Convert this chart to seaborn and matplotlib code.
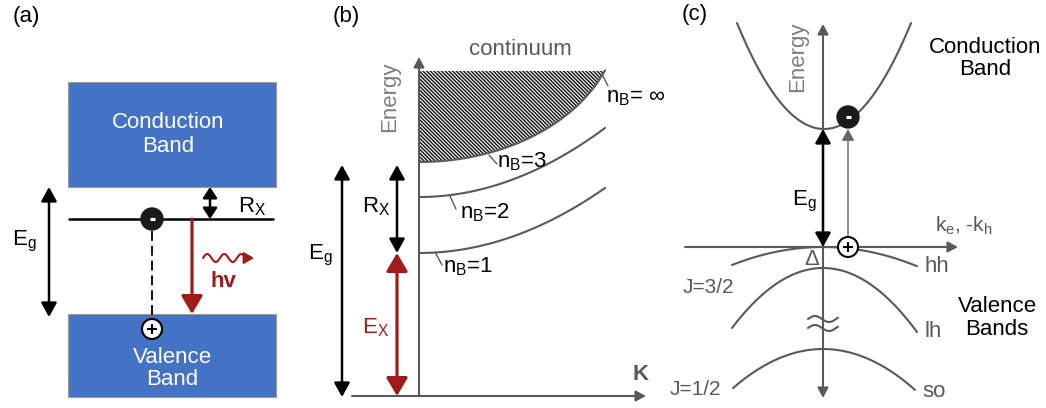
import numpy as np
import matplotlib
matplotlib.use("Agg")
import matplotlib.pyplot as plt
import seaborn as sns
import pandas as pd
from matplotlib.patches import Rectangle, Circle, FancyArrowPatch, ArrowStyle

sns.set_style("white")
plt.rcParams['font.family'] = ['Liberation Sans', 'DejaVu Sans']
plt.rcParams['mathtext.fontset'] = 'custom'
plt.rcParams['mathtext.rm'] = 'Liberation Sans'
plt.rcParams['mathtext.it'] = 'Liberation Sans:italic'
plt.rcParams['mathtext.bf'] = 'Liberation Sans:bold'
plt.rcParams['hatch.linewidth'] = 1.1

# ---------------- data (schematic, pixel space) ----------------
panel_labels = ["(a)", "(b)", "(c)"]
# panel (a): band edges and exciton level
cb_bottom, vb_top, exciton_level = 187, 314, 219
# panel (b): Rydberg series, energy at K=0 and at the right edge
rydberg_labels = ["n$_\\mathregular{B}$=1", "n$_\\mathregular{B}$=2", "n$_\\mathregular{B}$=3", "n$_\\mathregular{B}$= \u221e"]
rydberg_k0 = [253, 197, 162]
rydberg_kend = [188, 128, 70]
ground_level = 396
# panel (c): band extrema and curvature drops
band_labels = ["hh", "lh", "so"]
band_top = [247, 268, 349]
band_drop = [18, 60, 40]
cb_min = 129

GRAY = "#595959"
LGRAY = "#7f7f7f"
RED = "#9e1c1c"
BLUE = "#4472c4"

fig = plt.figure(figsize=(10.46, 4.08), dpi=100)
ax = fig.add_axes([0, 0, 1, 1])


def arrow(p0, p1, color="black", lw=1.8, hl=8.5, hw=4.5, style="<|-|>", z=3):
    ax.add_patch(FancyArrowPatch(p0, p1, arrowstyle=ArrowStyle(style, head_length=hl, head_width=hw),
                                 mutation_scale=1, lw=lw, color=color, shrinkA=0, shrinkB=0, zorder=z))


def T(x, y, s, size=16, color="black", ha="left", va="baseline", **kw):
    ax.text(x, y, s, fontsize=size, color=color, ha=ha, va=va, **kw)


def curve(x, y, color=GRAY, lw=1.5, z=2):
    sns.lineplot(x=x, y=y, ax=ax, color=color, lw=lw, sort=False, estimator=None, zorder=z)


def electron(x, y):
    ax.add_patch(Circle((x, y), 11, facecolor="#1a1a1a", edgecolor="#1a1a1a", zorder=5))
    ax.plot([x - 2.5, x + 2.5], [y, y], color="white", lw=2.2, zorder=6, solid_capstyle="butt")


def hole(x, y):
    ax.add_patch(Circle((x, y), 10, facecolor="white", edgecolor="black", lw=1.5, zorder=5))
    ax.plot([x - 5, x + 5], [y, y], color="black", lw=1.5, zorder=6, solid_capstyle="butt")
    ax.plot([x, x], [y - 5, y + 5], color="black", lw=1.5, zorder=6, solid_capstyle="butt")


# ---------------- panel (a) ----------------
T(13, 22, panel_labels[0])
ax.add_patch(Rectangle((68, 82), 208, cb_bottom - 82, facecolor=BLUE, edgecolor="#9a9a9a", lw=0.8))
ax.add_patch(Rectangle((68, vb_top), 208, 397 - vb_top, facecolor=BLUE, edgecolor="#9a9a9a", lw=0.8))
T(168, 128, "Conduction", color="white", ha="center")
T(168, 152, "Band", color="white", ha="center")
T(172, 363, "Valence", color="white", ha="center")
T(172, 385, "Band", color="white", ha="center")
ax.plot([69, 273], [exciton_level, exciton_level], color="black", lw=1.8)
ax.plot([152, 152], [231, 318], color="black", lw=1.3, linestyle=(0, (5.5, 2.7)))
electron(152, exciton_level)
hole(152, 329)
arrow((192, exciton_level), (192, vb_top), color=RED, lw=2.3, hl=11, hw=6.5, style="-|>")
arrow((210, cb_bottom), (210, exciton_level), hl=6.5, hw=4.3)
arrow((49, cb_bottom), (49, 317), hl=8.5, hw=4.7)
T(238, 212, "R$_\\mathregular{X}$", size=16)
T(12, 245, "E$_\\mathregular{g}$", size=16)
xw = np.linspace(203, 246, 80)
ax.plot(xw, 258 - 4 * np.sin(2 * np.pi * (xw - 203) / 17), color=RED, lw=1.5)
arrow((244, 258), (254, 258), color=RED, lw=1.5, hl=6, hw=3.5, style="-|>")
T(223, 287, "hv", size=16, color=RED, ha="center", fontweight="bold")

# ---------------- panel (b) ----------------
T(333, 22, panel_labels[1])
T(520, 55, "continuum", color=GRAY, ha="center")
T(390, 97, "Energy", color=LGRAY, ha="center", va="center", rotation=90)
arrow((419, ground_level), (419, 57), color=GRAY, lw=1.5, hl=6, hw=3.2, style="-|>")
arrow((352, ground_level), (646, ground_level), color=GRAY, lw=1.5, hl=6, hw=3.2, style="-|>")
T(641, 380, "K", size=16, color=GRAY, ha="center", fontweight="bold")

xk = np.linspace(419, 605, 120)
for y0, y1 in zip(rydberg_k0[:2], rydberg_kend[:2]):
    curve(xk, y0 - (y0 - y1) * ((xk - 419) / 186) ** 2)
# continuum edge (n=3 ... infinity)
a_e, b_e = 200.0, rydberg_k0[2] - 17.0
yb = 17 + b_e * np.sqrt(1 - ((xk - 419) / a_e) ** 2)
ax.fill_between(xk, 71, yb, facecolor="white", edgecolor="#1f1f1f", hatch="\\" * 9, lw=0, zorder=1)
curve(xk, yb)
# leaders
for (x0, y0, x1, y1) in [(435, 252, 442, 265), (450, 196, 456, 209), (489, 155, 497, 164), (603, 76, 608, 86)]:
    ax.plot([x0, x1], [y0, y1], color=GRAY, lw=1.0)
T(443, 272, rydberg_labels[0])
T(460, 218, rydberg_labels[1])
T(497, 167, rydberg_labels[2])
T(606, 102, rydberg_labels[3])

arrow((342, 165), (342, 397), hl=8.5, hw=4.7)
arrow((397, 165), (397, 253), hl=8.5, hw=4.7)
arrow((397, 253), (397, 396), color=RED, lw=2.3, hl=11, hw=6.5)
T(308, 259, "E$_\\mathregular{g}$", size=16)
T(362, 212, "R$_\\mathregular{X}$", size=16)
T(362, 333, "E$_\\mathregular{X}$", size=16, color=RED)

# ---------------- panel (c) ----------------
T(682, 20, panel_labels[2])
T(798, 57, "Energy", color=LGRAY, ha="center", va="center", rotation=90)
arrow((823, 398), (823, 24), color=GRAY, lw=1.5, hl=6, hw=3.2)
arrow((685, 247), (958, 247), color=GRAY, lw=1.5, hl=6, hw=3.2, style="-|>")
T(935, 232, "k$_\\mathregular{e}$, -k$_\\mathregular{h}$", size=15, color=GRAY)

xc = np.linspace(737, 911, 150)
curve(xc, cb_min - 0.0140 * (xc - 824) ** 2)
ranges = [(732, 917), (732, 917), (733, 915)]
for top, drop, (xa, xb) in zip(band_top, band_drop, ranges):
    xv = np.linspace(xa, xb, 150)
    curve(xv, top + drop * ((xv - 823) / 91) ** 2)

for yc in (319, 328):
    xs = np.linspace(808, 838, 60)
    ax.plot(xs, yc - 3 * np.sin(2 * np.pi * (xs - 808) / 28), color=GRAY, lw=1.5, zorder=3)

arrow((823, cb_min), (823, 247), hl=8.5, hw=4.7, z=4)
arrow((848, 236), (848, 129), color="#666666", lw=1.0, hl=7, hw=3.8, style="-|>")
electron(848, 117)
hole(848, 247)

T(812, 265, "\u0394", size=16, color=GRAY, ha="center")
T(792, 205, "E$_\\mathregular{g}$", size=16)
T(925, 272, band_labels[0], color=GRAY)
T(925, 337, band_labels[1], color=GRAY)
T(922, 397, band_labels[2], color=GRAY)
T(683, 293, "J=3/2", size=15, color=GRAY)
T(670, 395, "J=1/2", size=15, color=GRAY)
T(985, 53, "Conduction", ha="center")
T(985, 75, "Band", ha="center")
T(997, 312, "Valence", ha="center")
T(997, 335, "Bands", ha="center")

ax.set_xlim(0, 1046)
ax.set_ylim(408, 0)
ax.axis("off")
fig.savefig("out.png", dpi=100)
